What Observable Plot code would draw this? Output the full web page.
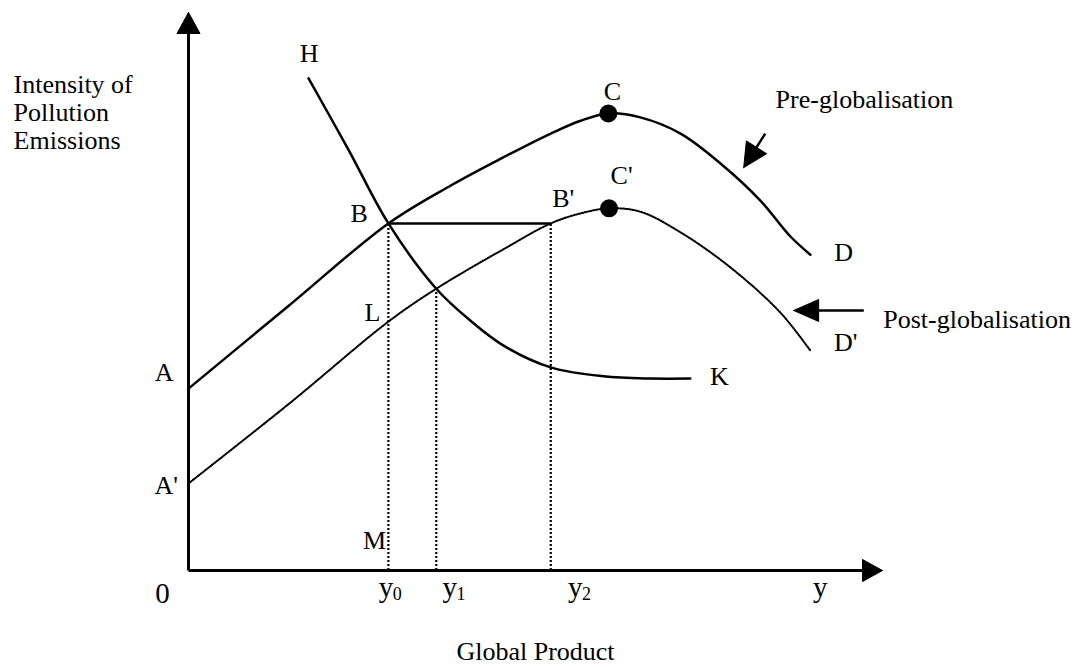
<!DOCTYPE html>
<html><head><meta charset="utf-8">
<script src="https://cdn.jsdelivr.net/npm/d3@7"></script>
<script src="https://cdn.jsdelivr.net/npm/@observablehq/plot@0.6"></script>
<style>body{margin:0;background:#fff;}</style>
</head><body><div id="chart"></div>
<script>
// ---- Data (arbitrary units: Global Product 0-100, Intensity 0-100) ----
const preX  = [0, 14.4, 28.8, 37.8, 45.0, 52.2, 56.5, 60.5, 65.1, 70.9, 76.7, 82.4, 86.7, 89.6];
const preY  = [32.6, 47.4, 62.2, 69.0, 73.8, 78.3, 80.6, 81.9, 81.2, 78.3, 72.9, 66.3, 59.9, 56.6];
const postX = [0, 14.7, 28.8, 35.7, 45.0, 52.2, 56.5, 60.6, 65.1, 70.9, 78.1, 85.3, 89.6];
const postY = [15.6, 30.1, 44.6, 50.5, 57.3, 62.2, 64.0, 64.9, 64.3, 60.6, 54.3, 46.2, 39.4];
const hkX   = [17.3, 23.1, 28.8, 35.7, 40.6, 45.4, 52.2, 59.8, 66.6, 72.3];
const hkY   = [88.2, 75.3, 62.2, 50.5, 44.8, 40.3, 36.4, 34.8, 34.4, 34.4];
const peakX = [60.5, 60.6];
const peakY = [81.9, 64.9];
const guideX = [28.8, 35.7, 52.2];     // y0, y1, y2
const guideTop = [62.2, 50.5, 62.2];
const bLineY = 62.2;

const pointNames = ["H", "B", "B'", "C", "C'", "L", "A", "A'", "M", "K", "D", "D'"];
const pointLX    = [17.4, 24.6, 54.0, 61.1, 62.4, 26.5, -3.5, -3.2, 26.8, 76.5, 94.4, 94.7];
const pointLY    = [92.7, 64.0, 66.7, 85.8, 70.8, 46.2, 35.5, 15.2, 5.4, 34.8, 57.0, 40.9];

const tickText = ["0", "y", "y", "y", "y"];
const tickSub  = ["", "0", "1", "2", ""];
const tickX    = [-4.8, 27.4, 36.6, 54.7, 90.0];
const tickY    = [-5.9, -4.8, -4.8, -4.8, -4.8];

const yTitleLines = ["Intensity of", "Pollution", "Emissions"];
const xTitle = "Global Product";
const seriesNames = ["Pre-globalisation", "Post-globalisation"];
const seriesLabelX = [84.6, 100.1];
const seriesLabelY = [82.8, 43.5];
const arrowFrom = [[83.1, 78.3], [97.3, 46.6]];
const arrowTo   = [[80.0, 72.2], [87.2, 46.6]];

// ---- Layout ----
const W = 1078, H = 667, ML = 188, MR = 196, MT = 12, MB = 97;
const kx = (W - ML - MR) / 100, ky = (H - MT - MB) / 100;
const FONT = "'Liberation Serif', 'Times New Roman', serif";

function headPoly(id, tip, from, len, half) {
  const dxp = (tip[0] - from[0]) * kx, dyp = -(tip[1] - from[1]) * ky;
  const n = Math.hypot(dxp, dyp), ux = dxp / n, uy = dyp / n;
  const bx = -ux * len, by = -uy * len, px = -uy * half, py = ux * half;
  const pts = [[0, 0], [bx + px, by + py], [bx - px, by - py], [0, 0]];
  const poly = pts.map(([ox, oy]) => ({id, x: tip[0] + ox / kx, y: tip[1] - oy / ky}));
  const base = {x: tip[0] + bx / kx, y: tip[1] - by / ky};
  return {poly, base};
}

const pre = preX.map((x, i) => ({x, y: preY[i]}));
const post = postX.map((x, i) => ({x, y: postY[i]}));
const hk = hkX.map((x, i) => ({x, y: hkY[i]}));
const peaks = peakX.map((x, i) => ({x, y: peakY[i]}));
const guides = guideX.map((x, i) => ({x, top: guideTop[i]}));
const pLabels = pointNames.map((t, i) => ({t, x: pointLX[i], y: pointLY[i]}));
const ticks = tickText.map((t, i) => ({t: t, s: tickSub[i], x: tickX[i], y: tickY[i]}));

const yAx = headPoly("ya", [0, 100], [0, 0], 21, 11.5);
const xAx = headPoly("xa", [100, 0], [0, 0], 20, 11);
const arrows = arrowFrom.map((f, i) => headPoly("a" + i, arrowTo[i], f, i === 0 ? 24 : 25, i === 0 ? 12 : 11));
const heads = [yAx, xAx, ...arrows].flatMap(h => h.poly);
const shafts = arrows.map((a, i) => ({x1: arrowFrom[i][0], y1: arrowFrom[i][1], x2: a.base.x, y2: a.base.y}));

const yTitle = yTitleLines.map((t, i) => ({t, y: 85.66 - i * 5.02}));

const chart = Plot.plot({
  width: W, height: H,
  marginLeft: ML, marginRight: MR, marginTop: MT, marginBottom: MB,
  x: {domain: [0, 100], axis: null},
  y: {domain: [0, 100], axis: null},
  style: {fontFamily: FONT, background: "white", color: "black"},
  marks: [
    // axes
    Plot.link([0], {x1: 0, y1: 0, x2: 0, y2: yAx.base.y, stroke: "black", strokeWidth: 3}),
    Plot.link([0], {x1: 0, y1: 0, x2: xAx.base.x, y2: 0, stroke: "black", strokeWidth: 3}),
    // guides
    Plot.ruleX(guides, {x: "x", y1: 0, y2: "top", stroke: "black", strokeWidth: 2.2, strokeDasharray: "2,2"}),
    Plot.ruleY([bLineY], {x1: guideX[0], x2: guideX[2], stroke: "black", strokeWidth: 2.5}),
    // curves
    Plot.line(post, {x: "x", y: "y", curve: "catmull-rom", stroke: "black", strokeWidth: 2, strokeDasharray: "1.5,1.5"}),
    Plot.line(pre, {x: "x", y: "y", curve: "catmull-rom", stroke: "black", strokeWidth: 2.5}),
    Plot.line(hk, {x: "x", y: "y", curve: "catmull-rom", stroke: "black", strokeWidth: 2.5}),
    Plot.dot(peaks, {x: "x", y: "y", r: 9, fill: "black", stroke: "none"}),
    // arrows
    Plot.link(shafts, {x1: "x1", y1: "y1", x2: "x2", y2: "y2", stroke: "black", strokeWidth: 2.5}),
    Plot.line(heads, {x: "x", y: "y", z: "id", fill: "black", stroke: "black", strokeWidth: 1}),
    // labels
    Plot.text(pLabels, {x: "x", y: "y", text: "t", fontSize: 26, fill: "black", lineAnchor: "middle"}),
    Plot.text(ticks, {x: "x", y: "y", text: "t", fontSize: 29, fill: "black", lineAnchor: "bottom", textAnchor: "start"}),
    Plot.text(ticks.filter(d => d.s), {x: "x", y: "y", dx: 14, dy: 3, text: "s", fontSize: 18, fill: "black", lineAnchor: "bottom", textAnchor: "start"}),
    Plot.text(yTitle, {x: -25.2, y: "y", text: "t", fontSize: 26, fill: "black", textAnchor: "start", lineAnchor: "bottom"}),
    Plot.text([xTitle], {x: 50.0, y: -16.0, text: d => d, fontSize: 26, fill: "black", lineAnchor: "bottom"}),
    Plot.text(seriesNames, {x: (d, i) => seriesLabelX[i], y: (d, i) => seriesLabelY[i], text: d => d, fontSize: 26, fill: "black", textAnchor: "start", lineAnchor: "bottom"})
  ]
});
document.getElementById("chart").appendChild(chart);
</script>
</body></html>
